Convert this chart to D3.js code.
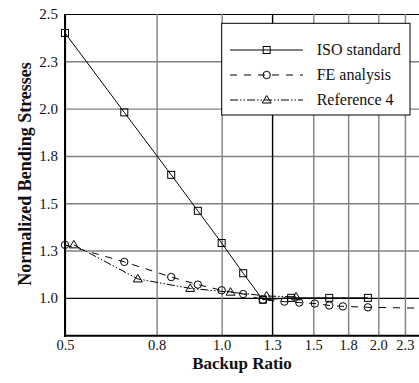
<!DOCTYPE html>
<html>
<head>
<meta charset="utf-8">
<script src="https://cdn.jsdelivr.net/npm/d3@7"></script>
<style>
  body { margin: 0; background: #fff; }
</style>
</head>
<body>
<div id="chart"></div>
<script>
// values
const isoX = [0.5, 0.65, 0.8, 0.9, 1.0, 1.1, 1.2, 1.36, 1.61, 1.91]
const isoY = [2.40, 1.98, 1.65, 1.46, 1.29, 1.13, 0.99, 1.0, 1.0, 1.0]
const feX = [0.5, 0.65, 0.8, 0.9, 1.0, 1.1, 1.2, 1.32, 1.41, 1.51, 1.61, 1.71, 1.91, 2.5]
const feY = [1.28, 1.19, 1.11, 1.07, 1.04, 1.02, 0.99, 0.98, 0.975, 0.97, 0.96, 0.955, 0.95, 0.945]
const refX = [0.52, 0.69, 0.87, 1.04, 1.22, 1.39]
const refY = [1.28, 1.10, 1.05, 1.03, 1.01, 1.005]

const xTicks = [0.5, 0.75, 1.0, 1.25, 1.5, 1.75, 2.0, 2.25]
const xTickLabels = ["0.5", "0.8", "1.0", "1.3", "1.5", "1.8", "2.0", "2.3"]
const yTicks = [1.0, 1.25, 1.5, 1.75, 2.0, 2.25, 2.5]
const yTickLabels = ["1.0", "1.3", "1.5", "1.8", "2.0", "2.3", "2.5"]

const seriesNames = ["ISO standard", "FE analysis", "Reference 4"]

const W = 419, H = 383
const mLeft = 65, mTop = 14, mBottom = 335.7
const FONT = '"Liberation Serif", "Times New Roman", Times, serif'

const x = d3.scaleLog().domain([0.5, 2.5]).range([mLeft, mLeft + 226 * Math.log(5)])
const y = d3.scaleLinear().domain([0.8, 2.5]).range([mBottom, mTop])
const mRight = x(2.5)

const svg = d3.select('#chart')
    .append('svg')
    .attr('width', W)
    .attr('height', H)
    .style('font-family', FONT)

// grid + tick labels through the axes
const yAxis = svg.append('g')
    .attr('transform', 'translate(' + mLeft + ',0)')
    .call(d3.axisLeft(y).tickValues(yTicks)
        .tickFormat((d, i) => yTickLabels[i])
        .tickSize(-(mRight - mLeft)).tickPadding(7))
    .attr('font-family', null)
yAxis.select('.domain').remove()
yAxis.selectAll('line')
    .attr('stroke', d => d === 1.0 ? '#000' : d === 2.5 ? '#000' : '#808080')
    .attr('stroke-width', d => d === 2.5 ? 1 : 1.4)
yAxis.selectAll('text')
    .style('font-family', FONT).style('font-size', '15px').attr('fill', '#111')

const xAxis = svg.append('g')
    .attr('transform', 'translate(0,' + mBottom + ')')
    .call(d3.axisBottom(x).tickValues(xTicks)
        .tickFormat((d, i) => xTickLabels[i])
        .tickSize(-(mBottom - mTop)).tickPadding(4.5))
    .attr('font-family', null)
xAxis.select('.domain').remove()
xAxis.selectAll('line')
    .attr('stroke', d => d === 1.25 ? '#000' : '#808080')
    .attr('stroke-width', 1.4)
xAxis.selectAll('text')
    .style('font-family', FONT).style('font-size', '14.5px').attr('fill', '#111')

// axis frame
svg.append('line').attr('x1', mLeft).attr('x2', mLeft).attr('y1', mTop).attr('y2', mBottom + 1)
    .attr('stroke', '#000').attr('stroke-width', 2)
svg.append('line').attr('x1', mLeft - 1).attr('x2', mRight).attr('y1', mBottom).attr('y2', mBottom)
    .attr('stroke', '#000').attr('stroke-width', 2)

// axis titles
svg.append('text')
    .attr('x', 242).attr('y', 368.5)
    .attr('text-anchor', 'middle')
    .style('font-family', FONT).style('font-size', '17px').style('font-weight', 'bold')
    .attr('fill', '#111')
    .text('Backup Ratio')

svg.append('text')
    .attr('transform', 'translate(31,174) rotate(-90)')
    .attr('text-anchor', 'middle')
    .style('font-family', FONT).style('font-size', '18px').style('font-weight', 'bold')
    .attr('fill', '#111')
    .text('Normalized Bending Stresses')

const styles = [
    { dash: null, marker: 'square' },
    { dash: '7,7', marker: 'circle' },
    { dash: '8,2,1.5,2,1.5,2', marker: 'triangle' }
]

const drawMarker = (g, kind, cx, cy) => {
    if (kind === 'square') {
        g.append('rect').attr('x', cx - 3.5).attr('y', cy - 3.5).attr('width', 7).attr('height', 7)
            .attr('fill', 'none').attr('stroke', '#000').attr('stroke-width', 1)
    } else if (kind === 'circle') {
        g.append('circle').attr('cx', cx).attr('cy', cy).attr('r', 3.7)
            .attr('fill', 'none').attr('stroke', '#000').attr('stroke-width', 1)
    } else {
        g.append('path')
            .attr('d', 'M' + cx + ',' + (cy - 4.5) + 'L' + (cx + 4.5) + ',' + (cy + 3) + 'L' + (cx - 4.5) + ',' + (cy + 3) + 'Z')
            .attr('fill', 'none').attr('stroke', '#000').attr('stroke-width', 1)
    }
}

const series = [
    isoX.map((v, i) => [v, isoY[i]]),
    feX.map((v, i) => [v, feY[i]]),
    refX.map((v, i) => [v, refY[i]])
]

const line = d3.line().x(d => x(d[0])).y(d => y(d[1]))

series.forEach((pts, s) => {
    const g = svg.append('g')
    g.append('path')
        .datum(pts)
        .attr('d', line)
        .attr('fill', 'none')
        .attr('stroke', '#000')
        .attr('stroke-width', 1)
        .attr('stroke-dasharray', styles[s].dash)
    pts.forEach(p => drawMarker(g, styles[s].marker, x(p[0]), y(p[1])))
})

// legend
const lg = svg.append('g')
lg.append('rect')
    .attr('x', 221.7).attr('y', 23.3).attr('width', 188.3).attr('height', 91.7)
    .attr('fill', '#fff').attr('stroke', '#000').attr('stroke-width', 1)

seriesNames.forEach((name, i) => {
    const ly = 50 + i * 25
    lg.append('line').attr('x1', 230).attr('x2', 303).attr('y1', ly).attr('y2', ly)
        .attr('stroke', '#000').attr('stroke-width', 1)
        .attr('stroke-dasharray', styles[i].dash)
    drawMarker(lg, styles[i].marker, 266.7, ly)
    lg.append('text')
        .attr('x', 316.7).attr('y', ly + 5)
        .style('font-family', FONT).style('font-size', '16px')
        .attr('fill', '#111')
        .text(name)
})
</script>
</body>
</html>
